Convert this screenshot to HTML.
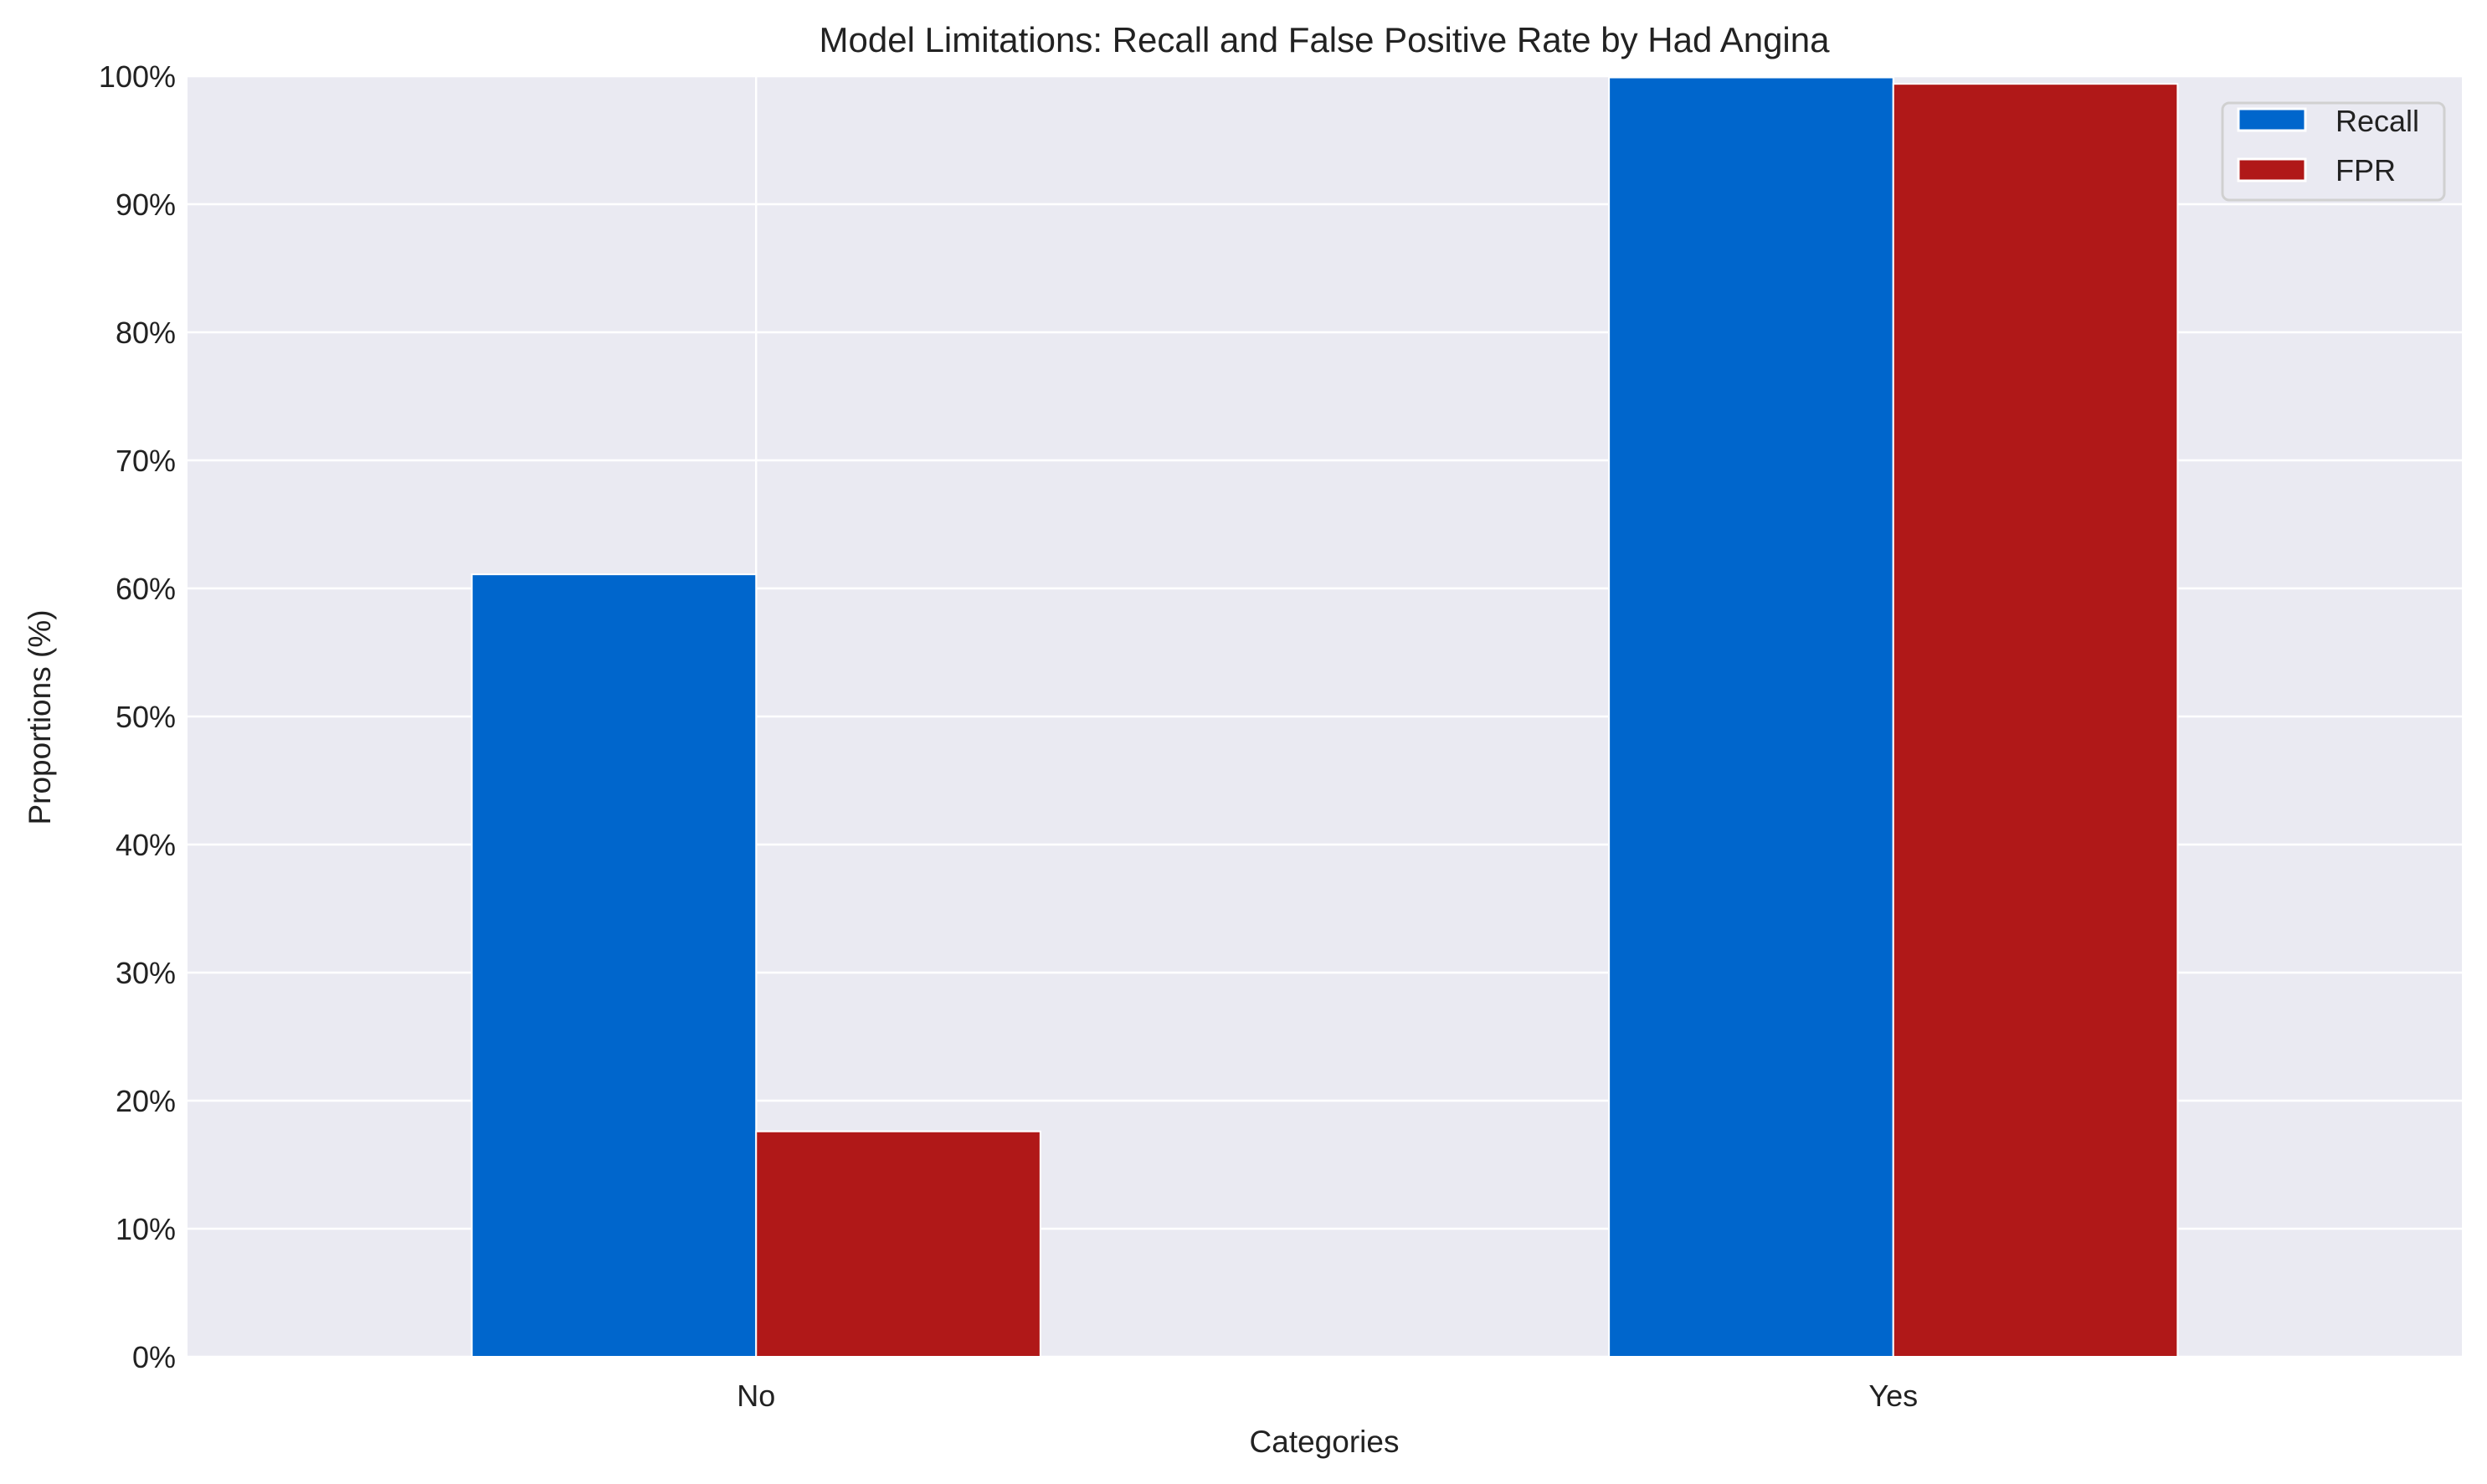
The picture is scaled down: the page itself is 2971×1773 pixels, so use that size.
<!DOCTYPE html>
<html><head><meta charset="utf-8"><style>
html,body{margin:0;padding:0;background:#fff;}
svg{display:block;font-family:"Liberation Sans",Arial,sans-serif;}
</style></head><body>
<svg id="chart" width="2971" height="1773" viewBox="0 0 2971 1773">
<rect x="224" y="91" width="2717" height="1530" fill="#EAEAF2"/>
<g id="grid"></g>
<g id="bars"></g>
<g id="ticks"></g>
<text x="1582" y="62" font-size="42" text-anchor="middle" fill="#222">Model Limitations: Recall and False Positive Rate by Had Angina</text>
<text x="1582" y="1735" font-size="37" text-anchor="middle" fill="#222">Categories</text>
<text transform="translate(60,857) rotate(-90)" font-size="37" text-anchor="middle" fill="#222">Proportions (%)</text>
<g>
<rect x="2655" y="123" width="265" height="116" rx="8" fill="#EAEAF2" stroke="#d0d0d0" stroke-width="3"/>
<rect x="2674" y="130" width="80" height="26" fill="#0066CC" stroke="#fff" stroke-width="3"/>
<text x="2790" y="157" font-size="36" fill="#222">Recall</text>
<rect x="2674" y="190" width="80" height="26" fill="#B01818" stroke="#fff" stroke-width="3"/>
<text x="2790" y="216" font-size="36" fill="#222">FPR</text>
</g>
</svg>
<script>
const categories = ["No", "Yes"];
const recall = [61.1, 99.9];
const fpr = [17.6, 99.4];
const yTicks = [0,10,20,30,40,50,60,70,80,90,100];

const L=224,R=2941,T=91,B=1621;
const xs = v => L + (v + 0.5) / 2 * (R - L);
const ys = v => B - v / 100 * (B - T);
const NS="http://www.w3.org/2000/svg";
const grid=document.getElementById('grid'), bars=document.getElementById('bars'), ticks=document.getElementById('ticks');
function mk(tag, attrs, parent){const e=document.createElementNS(NS,tag);for(const k in attrs)e.setAttribute(k,attrs[k]);parent.appendChild(e);return e;}

yTicks.forEach(t=>{
  const g=mk('line',{x1:L,x2:R,y1:ys(t),y2:ys(t),stroke:'#fff','stroke-width':2.5},grid);
  
  
  const lb=mk('text',{x:L-14,y:ys(t)+13,'font-size':36,'text-anchor':'end',fill:'#222'},ticks);
  lb.textContent=t+'%';
  
  
});
categories.forEach((c,i)=>{
  const g=mk('line',{x1:xs(i),x2:xs(i),y1:T,y2:B,stroke:'#fff','stroke-width':2.5},grid);
  
  
  const lb=mk('text',{x:xs(i),y:1680,'font-size':36,'text-anchor':'middle',fill:'#222'},ticks);
  lb.textContent=c;
  
  
  const w=0.25;
  const r1=mk('rect',{x:xs(i-w),y:ys(recall[i]),width:xs(i)-xs(i-w),height:B-ys(recall[i]),fill:'#0066CC',stroke:'#fff','stroke-width':2},bars);
  
  
  const r2=mk('rect',{x:xs(i),y:ys(fpr[i]),width:xs(i+w)-xs(i),height:B-ys(fpr[i]),fill:'#B01818',stroke:'#fff','stroke-width':2},bars);
  
  
});
</script>
</body></html>
